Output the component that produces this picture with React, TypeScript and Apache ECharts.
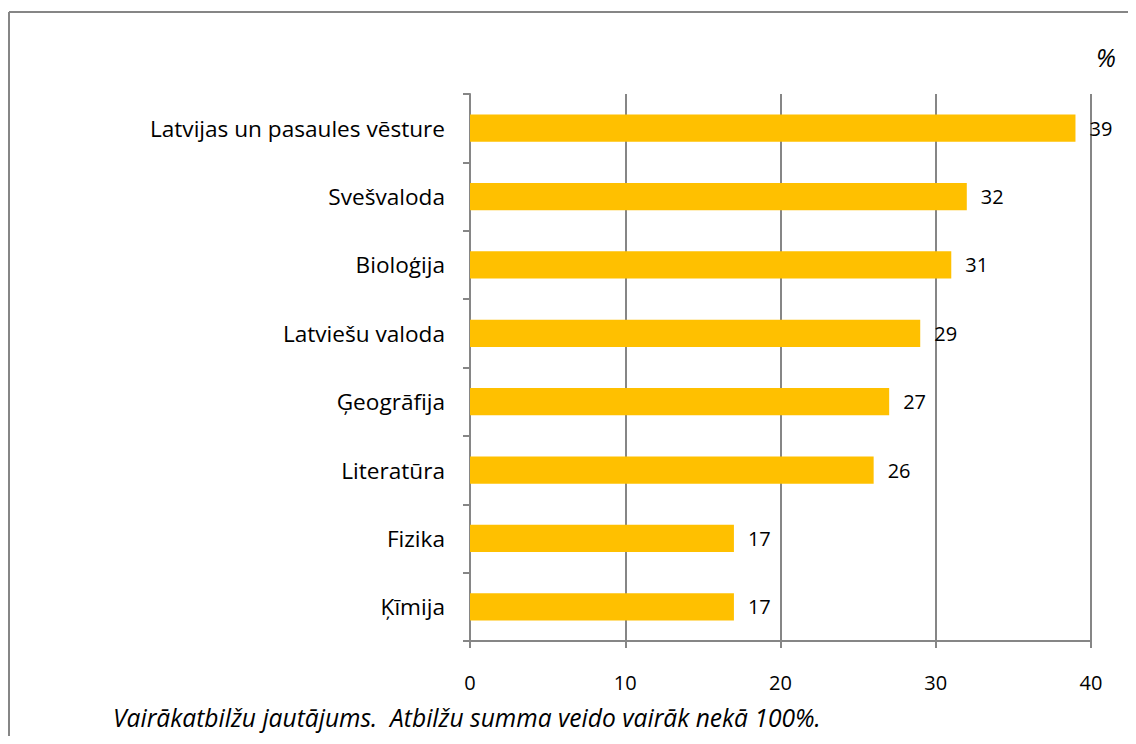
import React, { useEffect, useRef } from "react";
import * as echarts from "echarts";

const categories = [
  "Latvijas un pasaules vēsture",
  "Svešvaloda",
  "Bioloģija",
  "Latviešu valoda",
  "Ģeogrāfija",
  "Literatūra",
  "Fizika",
  "Ķīmija",
];
const values = [39, 32, 31, 29, 27, 26, 17, 17];
const xTicks = [0, 10, 20, 30, 40];
const unitLabel = "%";
const footnote = "Vairākatbilžu jautājums.  Atbilžu summa veido vairāk nekā 100%.";

const FONT = "'Open Sans', 'Noto Sans', sans-serif";
const GRAY = "#868686";

export default function App() {
  const ref = useRef<HTMLDivElement>(null);
  useEffect(() => {
    if (!ref.current) return;
    const chart = echarts.init(ref.current, null, { renderer: "svg" });
    chart.setOption({
      animation: false,
      backgroundColor: "#fff",
      textStyle: { fontFamily: FONT },
      grid: {
        left: 470,
        right: 45,
        top: 94,
        bottom: 103,
        containLabel: false,
        outerBoundsMode: "none",
      },
      xAxis: {
        type: "value",
        min: xTicks[0],
        max: xTicks[xTicks.length - 1],
        interval: 10,
        axisLine: { show: true, lineStyle: { color: GRAY, width: 2 } },
        axisTick: { show: true, length: 7, lineStyle: { color: GRAY, width: 2 } },
        splitLine: { show: true, lineStyle: { color: GRAY, width: 2 } },
        axisLabel: { color: "#000", fontSize: 20, margin: 31, fontFamily: FONT },
      },
      yAxis: {
        type: "category",
        data: categories,
        inverse: true,
        axisLine: { show: true, lineStyle: { color: GRAY, width: 2 } },
        axisTick: { show: true, length: 7, lineStyle: { color: GRAY, width: 2 } },
        axisLabel: { color: "#000", fontSize: 22.6, margin: 25, fontFamily: FONT },
      },
      series: [
        {
          type: "bar",
          data: values,
          barCategoryGap: "60%",
          itemStyle: { color: "#FFC000" },
          label: {
            show: true,
            position: "right",
            distance: 14,
            color: "#000",
            fontSize: 20,
            fontFamily: FONT,
          },
        },
      ],
      graphic: [
        {
          type: "line",
          shape: { x1: 9, y1: 12, x2: 1136, y2: 12 },
          style: { stroke: GRAY, lineWidth: 2 },
        },
        {
          type: "line",
          shape: { x1: 9, y1: 12, x2: 9, y2: 744 },
          style: { stroke: GRAY, lineWidth: 2 },
        },
        {
          type: "text",
          x: 1106,
          y: 57,
          style: {
            text: unitLabel,
            font: `italic 25px ${FONT}`,
            fill: "#000",
            align: "center",
            verticalAlign: "middle",
          },
        },
        {
          type: "text",
          x: 113,
          y: 717,
          style: {
            text: footnote,
            font: `italic 24.6px ${FONT}`,
            fill: "#000",
            align: "left",
            verticalAlign: "middle",
          },
        },
      ],
    });
    return () => chart.dispose();
  }, []);
  return <div ref={ref} style={{ width: 1136, height: 744, margin: -8 }} />;
}
